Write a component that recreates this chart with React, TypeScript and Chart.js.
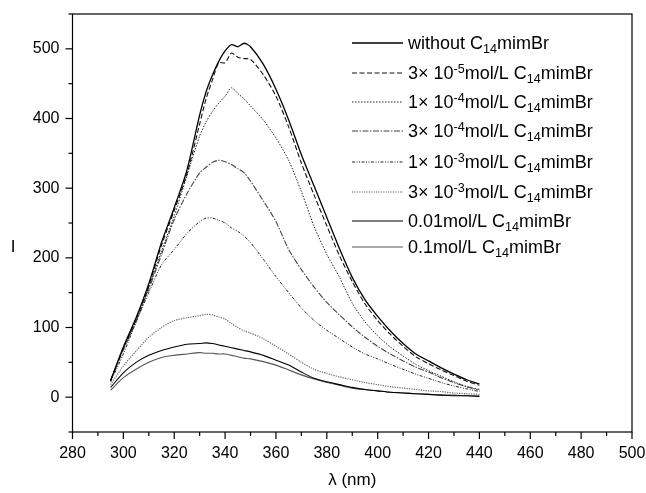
import React, { useEffect, useRef } from "react";
import { Chart, registerables } from "chart.js";

Chart.register(...registerables);

// ---------- data ----------
const wavelengths = [295, 300, 305, 310, 315, 320, 325, 330, 332.5, 335, 337.5, 340, 342.5, 345, 347.5, 350, 355, 360, 365, 370, 375, 380, 385, 390, 395, 400, 405, 410, 415, 420, 425, 430, 435, 440];

const withoutC14 = [24, 72, 114, 163, 222, 272, 326, 405, 438, 462, 482, 497, 506, 503, 508, 503, 478, 442, 398, 348, 303, 258, 213, 172, 140, 116, 95, 77, 62, 52, 42, 33, 25, 19];
const c3e5 = [24, 70, 112, 160, 218, 268, 320, 392, 428, 455, 480, 480, 494, 488, 486, 485, 463, 432, 388, 336, 290, 246, 203, 166, 134, 110, 90, 73, 58, 48, 39, 31, 23, 17];
const c1e4 = [24, 70, 110, 158, 210, 260, 318, 375, 395, 410, 422, 432, 444, 436, 428, 418, 398, 372, 340, 295, 245, 205, 172, 135, 108, 88, 72, 59, 47, 38, 30, 22, 15, 10];
const c3e4 = [24, 68, 108, 155, 205, 255, 292, 322, 330, 337, 340, 338, 334, 328, 322, 310, 282, 252, 212, 183, 158, 136, 118, 101, 86, 73, 62, 52, 43, 36, 28, 21, 15, 11];
const c1e3 = [22, 62, 108, 150, 190, 212, 235, 252, 257, 257, 254, 250, 243, 238, 231, 222, 198, 173, 150, 128, 110, 96, 84, 72, 62, 55, 47, 40, 33, 27, 21, 16, 12, 8];
const c3e3 = [18, 45, 66, 86, 100, 110, 114, 117, 119, 118, 115, 112, 106, 100, 95, 92, 84, 73, 62, 50, 40, 34, 29, 25, 21, 18, 15, 13, 11, 9, 8, 6, 5, 4];
const c001 = [14, 35, 50, 60, 67, 72, 76, 77, 78, 77, 75, 73, 71, 69, 67, 65, 60, 53, 46, 36, 27, 22, 18, 14, 11, 9, 7, 6, 5, 4, 3, 2, 2, 1];
const c01 = [10, 28, 40, 50, 57, 60, 62, 64, 63, 63, 62, 62, 60, 58, 56, 55, 51, 46, 39, 32, 26, 21, 17, 13, 11, 9, 7, 6, 5, 4, 3, 3, 2, 2];

const seriesValues = [withoutC14, c3e5, c1e4, c3e4, c1e3, c3e3, c001, c01];

const seriesLabels = [
  "without C_{14}mimBr",
  "3\u00d7 10^{-5}mol/L C_{14}mimBr",
  "1\u00d7 10^{-4}mol/L C_{14}mimBr",
  "3\u00d7 10^{-4}mol/L C_{14}mimBr",
  "1\u00d7 10^{-3}mol/L C_{14}mimBr",
  "3\u00d7 10^{-3}mol/L C_{14}mimBr",
  "0.01mol/L C_{14}mimBr",
  "0.1mol/L C_{14}mimBr",
];

const xTickValues = [280, 300, 320, 340, 360, 380, 400, 420, 440, 460, 480, 500];
const yTickValues = [0, 100, 200, 300, 400, 500];
const xTitle = "\u03bb (nm)";
const yTitle = "I";

// ---------- styles ----------
const FONT = "'Liberation Sans', Arial, Helvetica, sans-serif";
const seriesStyles = [
  { color: "#000000", dash: [] as number[], width: 1.3 },
  { color: "#111111", dash: [5, 2.5], width: 1.1 },
  { color: "#222222", dash: [1.5, 1.5], width: 1.0 },
  { color: "#444444", dash: [6, 1.5, 1.5, 1.5], width: 1.1 },
  { color: "#222222", dash: [3, 1.5, 1, 1.5, 1, 1.5], width: 1.0 },
  { color: "#666666", dash: [1.2, 1.2], width: 1.2 },
  { color: "#000000", dash: [] as number[], width: 1.1 },
  { color: "#555555", dash: [] as number[], width: 1.1 },
];
const legendRowY = [43, 73, 102, 131, 162, 192, 221, 247];
const LEGEND_FONT = 18;

function drawRich(ctx: CanvasRenderingContext2D, text: string, x: number, yMid: number, size: number) {
  const parts = text.split(/(\^\{[^}]*\}|_\{[^}]*\})/).filter((p) => p.length > 0);
  const base = yMid + size * 0.36;
  let cx = x;
  ctx.textAlign = "left";
  ctx.textBaseline = "alphabetic";
  for (const p of parts) {
    let s = p;
    let sz = size;
    let by = base;
    if (p.startsWith("^{")) {
      s = p.slice(2, -1);
      sz = size * 0.7;
      by = base - size * 0.38;
    } else if (p.startsWith("_{")) {
      s = p.slice(2, -1);
      sz = size * 0.7;
      by = base + size * 0.2;
    }
    ctx.font = `${sz}px ${FONT}`;
    ctx.fillText(s, cx, by);
    cx += ctx.measureText(s).width;
  }
}

const decorPlugin = {
  id: "decor",
  afterDraw(chart: any) {
    const { ctx, chartArea } = chart;
    const { left, right, top, bottom } = chartArea;
    const xs = chart.scales.x;
    const ys = chart.scales.y;
    ctx.save();
    ctx.strokeStyle = "#000";
    ctx.lineWidth = 1.2;
    ctx.setLineDash([]);
    ctx.strokeRect(left, top, right - left, bottom - top);
    // x ticks (major every 20, minor every 10)
    for (let v = xs.min; v <= xs.max + 1e-6; v += 10) {
      const px = xs.getPixelForValue(v);
      const len = v % 20 === 0 ? 7 : 4;
      ctx.beginPath();
      ctx.moveTo(px, bottom);
      ctx.lineTo(px, bottom + len);
      ctx.stroke();
    }
    // y ticks (major every 100, minor every 50)
    for (let v = ys.min; v <= ys.max + 1e-6; v += 50) {
      const py = ys.getPixelForValue(v);
      const len = v % 100 === 0 ? 7 : 4;
      ctx.beginPath();
      ctx.moveTo(left, py);
      ctx.lineTo(left - len, py);
      ctx.stroke();
    }
    // axis titles
    ctx.fillStyle = "#000";
    ctx.font = `17px ${FONT}`;
    ctx.textAlign = "center";
    ctx.textBaseline = "middle";
    ctx.fillText(xTitle, (left + right) / 2, 480);
    ctx.fillText(yTitle, 13, 247);
    // legend
    chart.data.datasets.forEach((ds: any, i: number) => {
      const y = legendRowY[i];
      const st = seriesStyles[i];
      ctx.strokeStyle = st.color;
      ctx.lineWidth = st.width;
      ctx.setLineDash(st.dash);
      ctx.beginPath();
      ctx.moveTo(352, y);
      ctx.lineTo(403, y);
      ctx.stroke();
      ctx.setLineDash([]);
      ctx.fillStyle = "#000";
      drawRich(ctx, ds.label, 408, y, LEGEND_FONT);
    });
    ctx.restore();
  },
};

export default function App() {
  const canvasRef = useRef<HTMLCanvasElement | null>(null);

  useEffect(() => {
    const canvas = canvasRef.current;
    if (!canvas) return;
    const datasets = seriesValues.map((vals, i) => ({
      label: seriesLabels[i],
      data: wavelengths.map((w, j) => ({ x: w, y: vals[j] })),
      borderColor: seriesStyles[i].color,
      borderWidth: seriesStyles[i].width,
      borderDash: seriesStyles[i].dash,
      pointRadius: 0,
      fill: false,
      tension: 0.25,
    }));
    const chart = new Chart(canvas, {
      type: "line",
      data: { datasets },
      options: {
        animation: false,
        responsive: true,
        maintainAspectRatio: false,
        layout: { padding: { top: 14, right: 14, left: 0, bottom: 0 } },
        plugins: { legend: { display: false }, tooltip: { enabled: false } },
        scales: {
          x: {
            type: "linear",
            min: 280,
            max: 500,
            grid: { display: false, drawTicks: false },
            border: { display: false },
            afterBuildTicks: (scale: any) => {
              scale.ticks = xTickValues.map((v) => ({ value: v }));
            },
            afterFit: (scale: any) => {
              scale.height = 61;
              scale.paddingLeft = 0;
              scale.paddingRight = 0;
            },
            ticks: { color: "#000", font: { family: FONT, size: 16 }, padding: 12, maxRotation: 0, autoSkip: false },
          },
          y: {
            type: "linear",
            min: -50,
            max: 550,
            grid: { display: false, drawTicks: false },
            border: { display: false },
            afterBuildTicks: (scale: any) => {
              scale.ticks = yTickValues.map((v) => ({ value: v }));
            },
            afterFit: (scale: any) => {
              scale.width = 72.5;
              scale.paddingTop = 0;
              scale.paddingBottom = 0;
            },
            ticks: { color: "#000", font: { family: FONT, size: 16 }, padding: 13, autoSkip: false },
          },
        },
      } as any,
      plugins: [decorPlugin],
    });
    return () => chart.destroy();
  }, []);

  return (
    <div style={{ position: "fixed", left: 0, top: 0, width: 646, height: 493, background: "#fff" }}>
      <canvas ref={canvasRef} />
    </div>
  );
}
